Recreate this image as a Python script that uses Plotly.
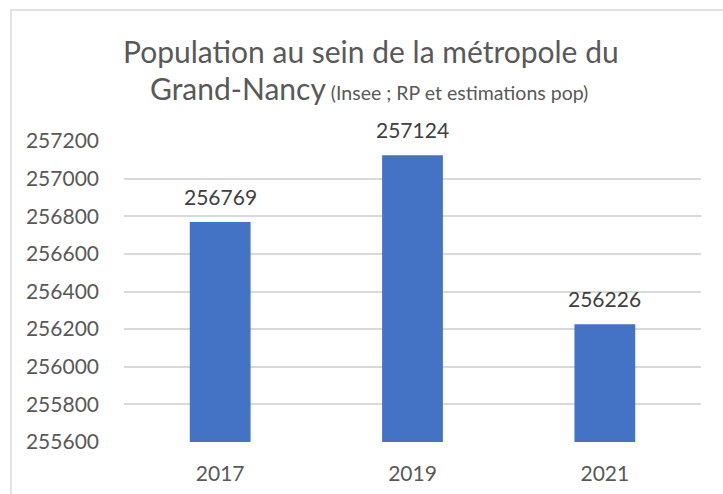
import plotly.graph_objects as go

years = ["2017", "2019", "2021"]
population = [256769, 257124, 256226]
y_ticks = [255600, 255800, 256000, 256200, 256400, 256600, 256800, 257000, 257200]

W, H = 723, 494
L, R, T, B = 124, 22, 141, 52
pw, ph = W - L - R, H - T - B

def px_x(x):
    return (x - L) / pw

def px_y(y):
    return 1 - (y - T) / ph

font = "Lato"
fig = go.Figure()
fig.add_trace(go.Bar(
    x=years, y=population,
    marker=dict(color="#4472C4", line=dict(width=0)),
    hoverinfo="x+y",
))

for i, v in enumerate(population):
    fig.add_annotation(x=i, y=v, xref="x", yref="y", text=str(v), showarrow=False,
                       yanchor="bottom", yshift=11,
                       font=dict(family=font, size=21, color="#404040"))

fig.add_annotation(x=px_x(370.5), y=px_y(51), xref="paper", yref="paper",
                   text="Population au sein de la métropole du", showarrow=False,
                   xanchor="center", yanchor="middle",
                   font=dict(family=font, size=30, color="#595959"))
fig.add_annotation(x=px_x(368.5), y=px_y(88), xref="paper", yref="paper",
                   text="Grand-Nancy<span style='font-size:19.5px'> (Insee ; RP et estimations pop)</span>",
                   showarrow=False, xanchor="center", yanchor="middle",
                   font=dict(family=font, size=30, color="#595959"))

fig.add_shape(type="rect", xref="paper", yref="paper",
              x0=px_x(11), x1=px_x(760), y0=px_y(540), y1=px_y(10),
              line=dict(color="#d9d9d9", width=1.5), fillcolor="rgba(0,0,0,0)", layer="below")

fig.update_layout(
    width=W, height=H,
    margin=dict(l=L, r=R, t=T, b=B, autoexpand=False),
    paper_bgcolor="white", plot_bgcolor="white",
    bargap=0.684,
    showlegend=False,
    font=dict(family=font, color="#595959"),
)
fig.update_xaxes(type="category", showgrid=False, zeroline=False, showline=False,
                 ticks="", ticklabelstandoff=17,
                 tickfont=dict(family=font, size=21, color="#595959"))
fig.update_yaxes(range=[255600, 257200], tickvals=y_ticks, ticktext=[str(t) for t in y_ticks],
                 showgrid=True, gridcolor="#d9d9d9", gridwidth=1.5, zeroline=False,
                 showline=False, ticks="", ticklabelstandoff=24,
                 tickfont=dict(family=font, size=21, color="#595959"))

fig.write_html("out.html", config={"displayModeBar": False},
               post_script="document.body.style.margin='0';document.body.style.overflow='hidden';")
